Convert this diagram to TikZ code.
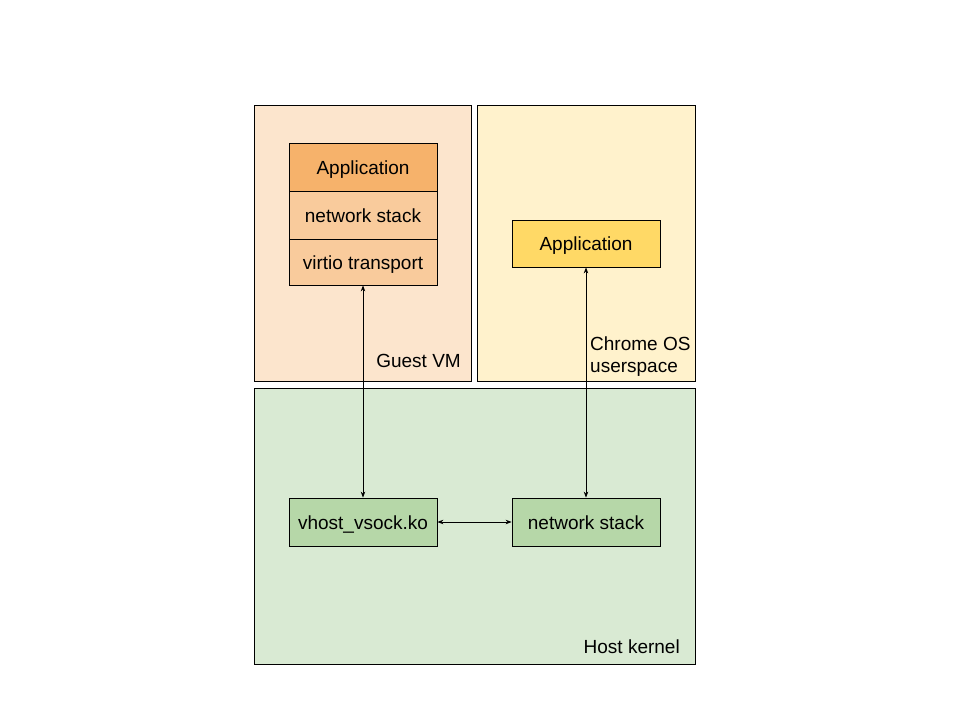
\documentclass[tikz,border=0pt]{standalone}
\usepackage{fontspec}
\setmainfont{Liberation Sans}
\usetikzlibrary{arrows.meta}
\definecolor{guestbg}{HTML}{FCE5CD}
\definecolor{chromebg}{HTML}{FFF2CC}
\definecolor{hostbg}{HTML}{D9EAD3}
\definecolor{appo}{HTML}{F6B26B}
\definecolor{layo}{HTML}{F9CB9C}
\definecolor{appy}{HTML}{FFD966}
\definecolor{grn}{HTML}{B6D7A8}
\tikzset{
  region/.style={draw=black, line width=0.8pt},
  blockbox/.style={draw=black, line width=0.8pt, minimum width=148pt, inner sep=0pt, text height=14pt, text depth=0pt, font=\fontsize{19}{22}\selectfont},
  lbl/.style={font=\fontsize{19}{22}\selectfont, inner sep=0pt},
  conn/.style={line width=0.8pt, {Stealth[length=6pt,width=4.5pt]}-{Stealth[length=6pt,width=4.5pt]}}
}
\begin{document}
\begin{tikzpicture}[x=1pt,y=-1pt]
\useasboundingbox (0,0) rectangle (960,720);
\fill[white] (0,0) rectangle (960,720);
% regions
\draw[region, fill=guestbg] (254,105) rectangle (471,381);
\draw[region, fill=chromebg] (477,105) rectangle (695,381);
\draw[region, fill=hostbg] (254,388) rectangle (695,664);
% guest stack
\node[blockbox, fill=appo, minimum height=48pt] (gapp) at (363,167) {Application};
\node[blockbox, fill=layo, minimum height=48pt] (gnet) at (363,215) {network stack};
\node[blockbox, fill=layo, minimum height=46pt] (gvirt) at (363,262) {virtio transport};
% chrome
\node[blockbox, fill=appy, minimum height=47pt] (capp) at (586,243.5) {Application};
% host
\node[blockbox, fill=grn, minimum height=48pt] (vhost) at (363,522) {vhost\_vsock.ko};
\node[blockbox, fill=grn, minimum height=48pt] (hnet) at (586,522) {network stack};
% labels
\node[lbl, anchor=base east] (lguest) at (461,367) {Guest VM};
\node[lbl, anchor=base west] (lchrome1) at (590,350) {Chrome OS};
\node[lbl, anchor=base west] (lchrome2) at (590,372) {userspace};
\node[lbl, anchor=base east] (lhost) at (680,653) {Host kernel};
% connectors
\draw[conn] (gvirt.south) -- (vhost.north);
\draw[conn] (capp.south) -- (hnet.north);
\draw[conn] (vhost.east) -- (hnet.west);
\end{tikzpicture}
\end{document}
